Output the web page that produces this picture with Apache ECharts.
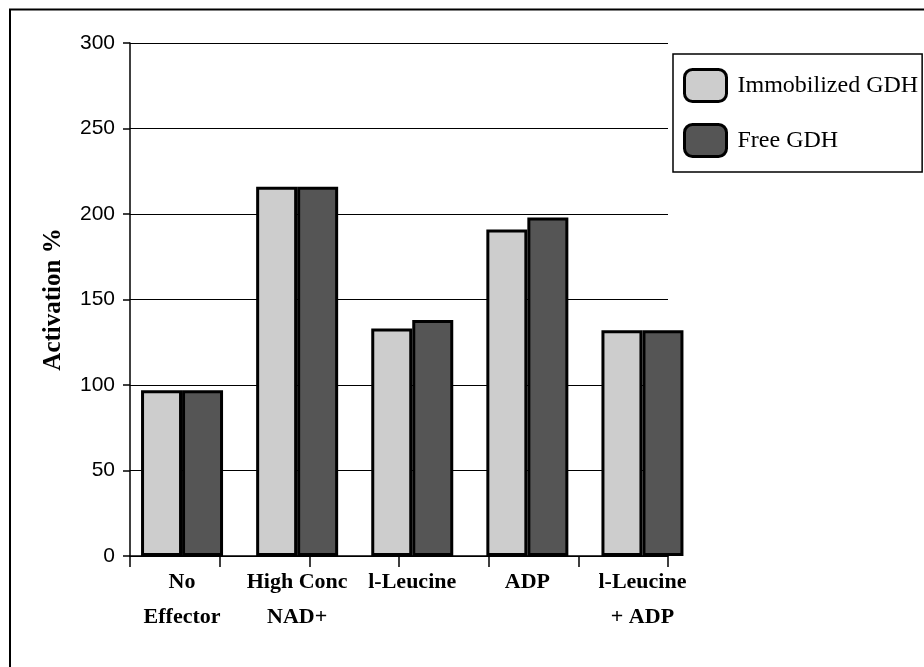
<!DOCTYPE html>
<html><head><meta charset="utf-8">
<script src="https://cdn.jsdelivr.net/npm/echarts@6/dist/echarts.min.js"></script>
<style>html,body{margin:0;padding:0;background:#fff}#c{width:924px;height:667px}</style>
</head><body><div id="c"></div>
<script>
const categories = ['No\nEffector', 'High Conc\nNAD+', 'l-Leucine', 'ADP', 'l-Leucine\n+ ADP'];
const seriesNames = ['Immobilized GDH', 'Free GDH'];
const immobilized = [97, 216, 133, 191, 132];
const free = [97, 216, 138, 198, 132];
const yMin = 0, yMax = 300, yStep = 50;
const yTitle = 'Activation %';

const chart = echarts.init(document.getElementById('c'), null, {renderer: 'canvas'});
chart.setOption({
  animation: false,
  backgroundColor: '#fff',
  graphic: [
    {type: 'line', shape: {x1: 9, y1: 9.5, x2: 924, y2: 9.5}, style: {stroke: '#000', lineWidth: 2}},
    {type: 'line', shape: {x1: 10, y1: 9, x2: 10, y2: 667}, style: {stroke: '#000', lineWidth: 2}}
  ],
  grid: [
    {left: 130, right: 256, top: 43, bottom: 111},
    {left: 124.5, width: 575.5, top: 43, bottom: 111}
  ],
  legend: {
    orient: 'vertical',
    left: 673, top: 54,
    padding: [14, 4, 14, 10],
    itemWidth: 42, itemHeight: 32, itemGap: 20,
    icon: 'roundRect',
    backgroundColor: '#fff',
    borderColor: '#000', borderWidth: 1.5,
    itemStyle: {borderColor: '#000', borderWidth: 3},
    textStyle: {fontFamily: 'Liberation Serif', fontSize: 24, color: '#000', padding: [0, 0, 0, 6]},
    data: seriesNames
  },
  xAxis: [
    {
      gridIndex: 0, type: 'value', min: 0, max: 6, interval: 1,
      axisLine: {show: true, onZero: false, lineStyle: {color: '#000', width: 1.5}},
      axisTick: {show: true, length: 11, lineStyle: {color: '#000', width: 1.5}},
      axisLabel: {show: false}, splitLine: {show: false}
    },
    {
      gridIndex: 1, type: 'category', data: categories,
      axisLine: {show: false}, axisTick: {show: false}, splitLine: {show: false},
      axisLabel: {
        margin: 9, fontFamily: 'Liberation Serif', fontWeight: 'bold',
        fontSize: 22, lineHeight: 35, color: '#000', interval: 0
      }
    }
  ],
  yAxis: [
    {
      gridIndex: 0, type: 'value', min: yMin, max: yMax, interval: yStep,
      name: yTitle, nameLocation: 'middle', nameGap: 64,
      nameTextStyle: {fontFamily: 'Liberation Serif', fontWeight: 'bold', fontSize: 25, color: '#000'},
      axisLine: {show: true, lineStyle: {color: '#000', width: 1.5}},
      axisTick: {show: true, length: 7, lineStyle: {color: '#000', width: 1.5}},
      axisLabel: {margin: 15, fontFamily: 'Liberation Sans', fontSize: 21, color: '#000'},
      splitLine: {show: true, lineStyle: {color: '#000', width: 1.2}}
    },
    {
      gridIndex: 1, type: 'value', min: yMin, max: yMax, interval: yStep,
      axisLine: {show: false}, axisTick: {show: false}, axisLabel: {show: false}, splitLine: {show: false}
    }
  ],
  series: [
    {
      name: seriesNames[0], type: 'bar', xAxisIndex: 1, yAxisIndex: 1,
      data: immobilized, barWidth: 41, barGap: '0%',
      itemStyle: {color: '#cdcdcd', borderColor: '#000', borderWidth: 3}
    },
    {
      name: seriesNames[1], type: 'bar', xAxisIndex: 1, yAxisIndex: 1,
      data: free, barWidth: 41, barGap: '0%',
      itemStyle: {color: '#555555', borderColor: '#000', borderWidth: 3}
    }
  ]
});
</script>
</body></html>
